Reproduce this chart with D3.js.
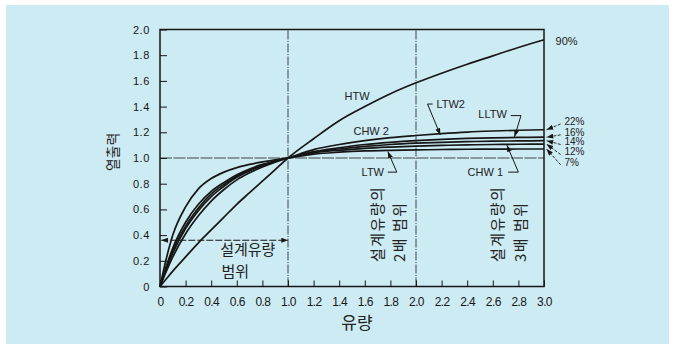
<!DOCTYPE html>
<html>
<head>
<meta charset="utf-8">
<script src="https://cdn.jsdelivr.net/npm/d3@7/dist/d3.min.js"></script>
<style>
  body { margin: 0; background: #fff; }
  svg { display: block; }
</style>
</head>
<body>
<div id="chart"></div>
<script>
// flow (fraction of design flow) and heat output for each curve
var flow   = [0, 0.05, 0.1, 0.2, 0.3, 0.4, 0.5, 0.6, 0.7, 0.8, 0.9, 1.0, 1.2, 1.4, 1.6, 1.8, 2.0, 2.2, 2.4, 2.6, 2.8, 3.0];
var out90  = [0, 0.06, 0.12, 0.23, 0.34, 0.44, 0.54, 0.64, 0.73, 0.82, 0.91, 1.0, 1.15, 1.29, 1.40, 1.50, 1.585, 1.66, 1.73, 1.795, 1.86, 1.92];
var out22  = [0, 0.12, 0.23, 0.41, 0.55, 0.665, 0.755, 0.83, 0.885, 0.93, 0.968, 1.0, 1.065, 1.105, 1.135, 1.158, 1.175, 1.19, 1.202, 1.21, 1.216, 1.22];
var out16  = [0, 0.14, 0.26, 0.45, 0.59, 0.70, 0.78, 0.85, 0.90, 0.94, 0.972, 1.0, 1.05, 1.08, 1.105, 1.122, 1.135, 1.145, 1.152, 1.157, 1.16, 1.162];
var out14  = [0, 0.15, 0.28, 0.47, 0.61, 0.72, 0.795, 0.86, 0.905, 0.945, 0.975, 1.0, 1.045, 1.07, 1.09, 1.105, 1.115, 1.122, 1.127, 1.131, 1.133, 1.135];
var out12  = [0, 0.16, 0.30, 0.50, 0.64, 0.74, 0.81, 0.87, 0.915, 0.95, 0.977, 1.0, 1.04, 1.06, 1.075, 1.085, 1.093, 1.098, 1.102, 1.105, 1.107, 1.108];
var out7   = [0, 0.22, 0.40, 0.62, 0.76, 0.84, 0.89, 0.925, 0.95, 0.97, 0.985, 1.0, 1.03, 1.045, 1.055, 1.06, 1.063, 1.066, 1.068, 1.069, 1.07, 1.07];

var seriesNames = ["90%", "22%", "16%", "14%", "12%", "7%"];
var seriesData  = [out90, out22, out16, out14, out12, out7];

var xTicks = [0, 0.2, 0.4, 0.6, 0.8, 1.0, 1.2, 1.4, 1.6, 1.8, 2.0, 2.2, 2.4, 2.6, 2.8, 3.0];
var xTickLabels = ["0", "0.2", "0.4", "0.6", "0.8", "1.0", "1.2", "1.4", "1.6", "1.8", "2.0", "2.2", "2.4", "2.6", "2.8", "3.0"];
var yTicks = [0, 0.2, 0.4, 0.6, 0.8, 1.0, 1.2, 1.4, 1.6, 1.8, 2.0];
var yTickLabels = ["0", "0.2", "0.4", "0.6", "0.8", "1.0", "1.2", "1.4", "1.6", "1.8", "2.0"];

var W = 675, H = 349;
var ink = "#161616";
var kr = "'Noto Sans CJK KR', 'Noto Sans', sans-serif";
var lat = "'Liberation Sans', Arial, sans-serif";

var svg = d3.select("#chart").append("svg")
    .attr("width", W)
    .attr("height", H);

svg.append("rect")
    .attr("x", 6).attr("y", 5)
    .attr("width", 663).attr("height", 339)
    .attr("fill", "#cdebf3");

var defs = svg.append("defs");
defs.append("marker")
    .attr("id", "arr")
    .attr("viewBox", "0 0 8 6")
    .attr("refX", 8).attr("refY", 3)
    .attr("markerWidth", 7).attr("markerHeight", 5)
    .attr("markerUnits", "userSpaceOnUse")
    .attr("orient", "auto-start-reverse")
    .append("path")
    .attr("d", "M0,0 L8,3 L0,6 z")
    .attr("fill", ink);

var x = d3.scaleLinear().domain([0, 3]).range([160, 544]);
var y = d3.scaleLinear().domain([0, 2]).range([286.5, 29.5]);

// reference lines
var grid = svg.append("g").attr("stroke", "#333").attr("stroke-width", 0.9).attr("fill", "none");
[1, 2].forEach(function(v){
    grid.append("line")
        .attr("x1", x(v)).attr("x2", x(v))
        .attr("y1", y(0)).attr("y2", y(2))
        .attr("stroke-dasharray", "9,1.5,1,1.5");
});
grid.append("line")
    .attr("x1", x(0)).attr("x2", x(3))
    .attr("y1", y(1)).attr("y2", y(1))
    .attr("stroke-dasharray", "12,1.5");

// axes
var yAxis = d3.axisLeft(y)
    .tickValues(yTicks)
    .tickSize(-7)
    .tickPadding(10)
    .tickFormat(function(d, i){ return yTickLabels[i]; });
var xAxis = d3.axisBottom(x)
    .tickValues(xTicks)
    .tickSize(-6)
    .tickPadding(11)
    .tickFormat(function(d, i){ return xTickLabels[i]; });

var gy = svg.append("g").attr("transform", "translate(" + x(0) + ",0)").call(yAxis);
var gx = svg.append("g").attr("transform", "translate(0," + y(0) + ")").call(xAxis);
[gx, gy].forEach(function(g){
    g.select(".domain").remove();
    g.selectAll(".tick line").attr("stroke", ink).attr("stroke-width", 1);
    g.selectAll(".tick text")
        .attr("fill", ink)
        .style("font-family", lat)
        .style("font-size", "12px");
});
gy.selectAll(".tick text").style("letter-spacing", "0.6px").style("font-size", "11px");
gx.selectAll(".tick text").style("letter-spacing", "-0.6px");

// frame
svg.append("rect")
    .attr("x", x(0)).attr("y", y(2))
    .attr("width", x(3) - x(0)).attr("height", y(0) - y(2))
    .attr("fill", "none")
    .attr("stroke", ink)
    .attr("stroke-width", 1.5);

// curves
var line = d3.line()
    .x(function(d){ return x(d[0]); })
    .y(function(d){ return y(d[1]); })
    .curve(d3.curveMonotoneX);

svg.append("g").selectAll("path")
    .data(seriesData)
    .enter().append("path")
    .attr("d", function(vals){ return line(flow.map(function(f, i){ return [f, vals[i]]; })); })
    .attr("fill", "none")
    .attr("stroke", ink)
    .attr("stroke-width", 1.7);

// design flow range arrow
svg.append("line")
    .attr("x1", x(0.01)).attr("x2", x(1.0))
    .attr("y1", y(0.36)).attr("y2", y(0.36))
    .attr("stroke", ink)
    .attr("stroke-width", 1.2)
    .attr("stroke-dasharray", "7,2")
    .attr("marker-start", "url(#arr)")
    .attr("marker-end", "url(#arr)");

function txt(t, xv, yv, opts){
    opts = opts || {};
    return svg.append("text")
        .attr("x", x(xv)).attr("y", y(yv))
        .attr("dy", "0.35em")
        .attr("text-anchor", opts.anchor || "start")
        .attr("fill", opts.fill || "#222")
        .style("font-family", opts.font || lat)
        .style("font-size", (opts.size || 12) + "px")
        .text(t);
}

txt("설계유량", 0.47, 0.285, { font: kr, size: 15 });
txt("범위", 0.48, 0.115, { font: kr, size: 15 });

// vertical range notes
function vtxt(t, xv, yBottom){
    svg.append("text")
        .attr("transform", "translate(" + x(xv) + "," + y(yBottom) + ") rotate(-90)")
        .attr("dy", "0.35em")
        .attr("fill", "#222")
        .style("font-family", kr)
        .style("font-size", "15px")
        .style("letter-spacing", "1.5px")
        .text(t);
}
vtxt("설계유량의", 1.70, 0.19);
vtxt("2배 범위", 1.87, 0.19);
vtxt("설계유량의", 2.64, 0.19);
vtxt("3배 범위", 2.82, 0.19);

// axis titles
svg.append("text")
    .attr("x", 357).attr("y", 329)
    .attr("text-anchor", "middle")
    .attr("fill", "#222")
    .style("font-family", kr)
    .style("font-size", "17px")
    .text("유량");
svg.append("text")
    .attr("transform", "translate(118,152) rotate(-90)")
    .attr("text-anchor", "middle")
    .attr("fill", "#222")
    .style("font-family", kr)
    .style("font-size", "14px")
    .text("열출력");

// curve names with leaders
function leader(pts){
    svg.append("path")
        .attr("d", d3.line()(pts.map(function(p){ return [x(p[0]), y(p[1])]; })))
        .attr("fill", "none")
        .attr("stroke", ink)
        .attr("stroke-width", 1)
        .attr("marker-end", "url(#arr)");
}

txt("HTW", 1.54, 1.48, { anchor: "middle", size: 11 });
txt("CHW 2", 1.65, 1.21, { anchor: "middle", size: 11 });
txt("LTW2", 2.16, 1.42, { size: 11 });
leader([[2.13, 1.42], [2.09, 1.42], [2.19, 1.18]]);
txt("LLTW", 2.71, 1.34, { anchor: "end", size: 11 });
leader([[2.74, 1.33], [2.82, 1.33], [2.77, 1.165]]);
txt("LTW", 1.75, 0.89, { anchor: "end", size: 11 });
leader([[1.78, 0.89], [1.85, 0.89], [1.78, 1.05]]);
txt("CHW 1", 2.68, 0.89, { anchor: "end", size: 11 });
leader([[2.72, 0.89], [2.80, 0.89], [2.71, 1.10]]);

// percentage tags at right
var tagY = [1.91, 1.285, 1.2, 1.125, 1.047, 0.967];
seriesNames.forEach(function(name, i){
    if (i == 0) {
        txt(name, 3.09, tagY[i], { size: 11 });
        return;
    }
    txt(name, 3.16, tagY[i], { size: 10 });
    var end = seriesData[i][seriesData[i].length - 1];
    svg.append("line")
        .attr("x1", x(3.13)).attr("y1", y(tagY[i] - 0.02))
        .attr("x2", x(3.02)).attr("y2", y(end))
        .attr("stroke", ink)
        .attr("stroke-width", 0.9)
        .attr("stroke-dasharray", "3,1.5")
        .attr("marker-end", "url(#arr)");
});
</script>
</body>
</html>
